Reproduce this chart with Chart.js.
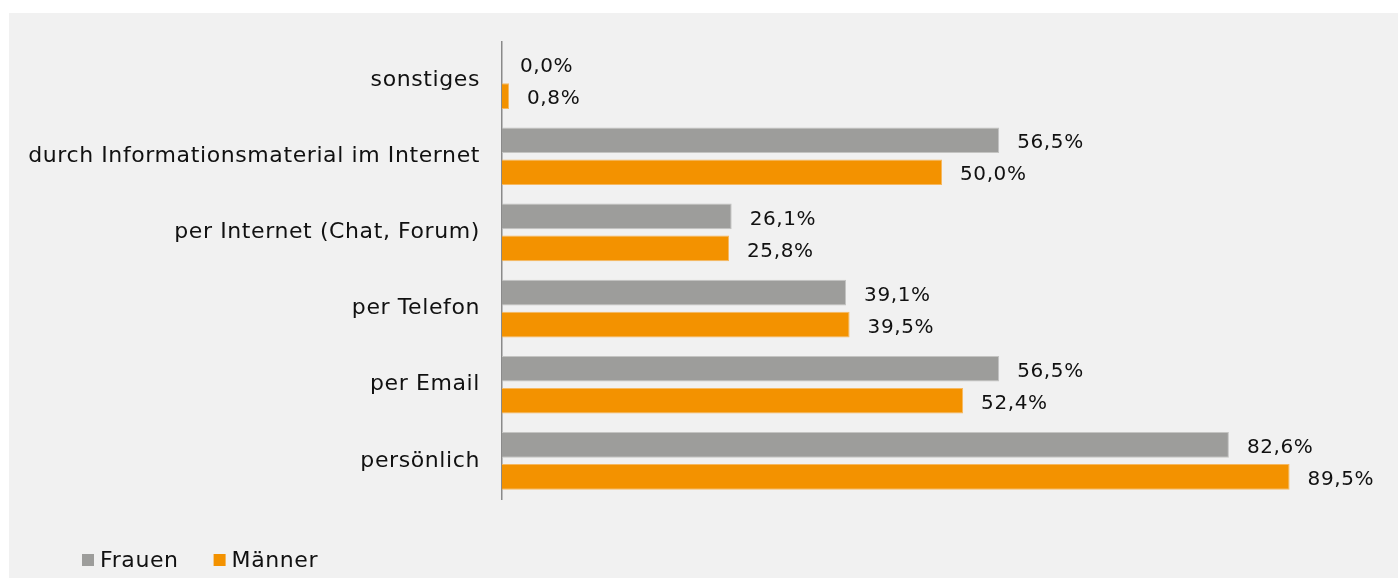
<!DOCTYPE html>
<html><head><meta charset="utf-8">
<script src="https://cdn.jsdelivr.net/npm/chart.js@4/dist/chart.umd.min.js"></script>
<style>
html,body{margin:0;padding:0;background:#fff;}
#wrap{position:absolute;left:9px;top:13px;width:1389px;height:565px;background:#f1f1f1;}
</style></head><body>
<div id="wrap"><canvas id="c" width="1389" height="565"></canvas></div>
<script>
const categories = ["sonstiges","durch Informationsmaterial im Internet","per Internet (Chat, Forum)","per Telefon","per Email","persönlich"];
const frauen = [0.0, 56.5, 26.1, 39.1, 56.5, 82.6];
const maenner = [0.8, 50.0, 25.8, 39.5, 52.4, 89.5];
const seriesNames = ["Frauen","Männer"];
const FONT = "DejaVu Sans";

const spacing = {
  id:'spacing',
  beforeUpdate(chart){ chart.ctx.letterSpacing='0.6px'; },
  beforeDraw(chart){ chart.ctx.letterSpacing='0.6px'; }
};

const valueLabels = {
  id:'valueLabels',
  afterDatasetsDraw(chart){
    const ctx = chart.ctx;
    ctx.save();
    ctx.font = '20px "'+FONT+'"';
    ctx.fillStyle = '#111';
    ctx.textAlign = 'left';
    ctx.textBaseline = 'middle';
    chart.data.datasets.forEach((ds,i)=>{
      chart.getDatasetMeta(i).data.forEach((bar,j)=>{
        const t = ds.data[j].toFixed(1).replace('.',',')+'%';
        ctx.fillText(t, bar.x+18, bar.y+3);
      });
    });
    ctx.restore();
  }
};

const bottomLegend = {
  id:'bottomLegend',
  afterDraw(chart){
    const ctx = chart.ctx;
    ctx.save();
    ctx.font = '22px "'+FONT+'"';
    ctx.textAlign = 'left';
    ctx.textBaseline = 'middle';
    let x = 73; const cy = 547;
    chart.data.datasets.forEach(ds=>{
      ctx.fillStyle = ds.backgroundColor;
      ctx.fillRect(x, cy-6, 12, 12);
      ctx.fillStyle = '#111';
      ctx.fillText(ds.label, x+18, cy+1);
      x += 18 + ctx.measureText(ds.label).width + 35;
    });
    ctx.restore();
  }
};

new Chart(document.getElementById('c'),{
  type:'bar',
  data:{labels:categories,datasets:[
    {label:seriesNames[0],data:frauen,backgroundColor:'#9d9d9b',borderColor:'#c4c4c2',borderWidth:1,categoryPercentage:0.842,barPercentage:0.8},
    {label:seriesNames[1],data:maenner,backgroundColor:'#f39200',borderColor:'#f6b860',borderWidth:1,categoryPercentage:0.842,barPercentage:0.8}
  ]},
  options:{
    indexAxis:'y',responsive:false,animation:false,
    layout:{padding:{top:29,left:10,right:16,bottom:79}},
    plugins:{legend:{display:false},tooltip:{enabled:false}},
    scales:{
      x:{display:false,min:0,max:100},
      y:{
        afterFit(s){s.width=483;},
        grid:{display:true,drawOnChartArea:false,drawTicks:true,tickLength:22,color:'rgba(0,0,0,0)'},
        border:{display:true,color:'#8a8a8a',width:1.5},
        ticks:{padding:0,color:'#111',font:{family:FONT,size:22}}
      }
    }
  },
  plugins:[spacing,valueLabels,bottomLegend]
});
</script></body></html>
